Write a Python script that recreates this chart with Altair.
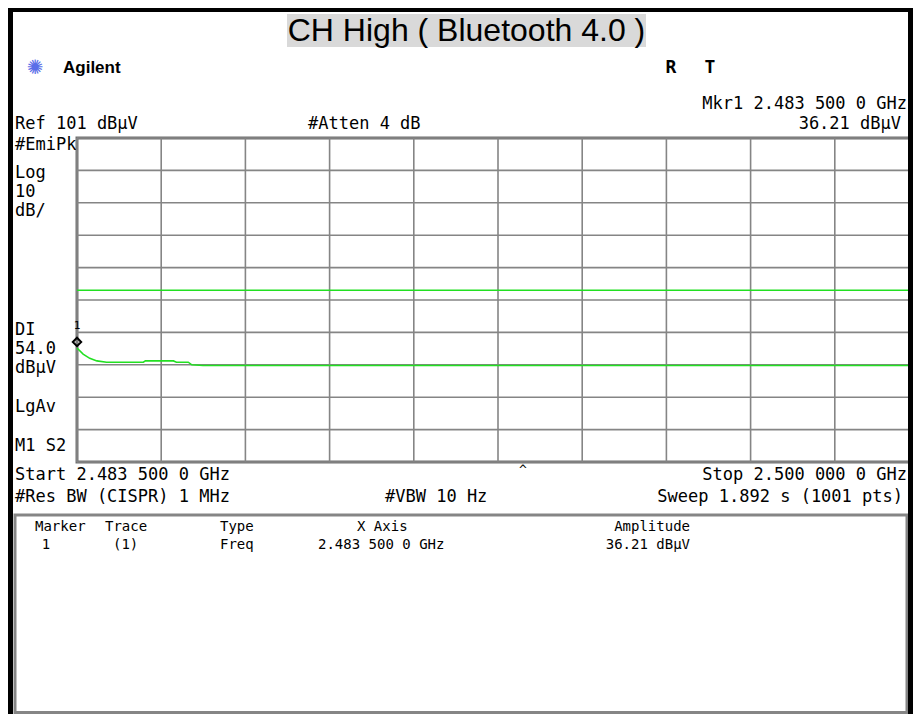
import altair as alt
import pandas as pd

# ---------------- data ----------------
freq_mhz = [2483.50, 2483.62, 2483.75, 2483.89, 2484.08, 2484.80, 2484.84,
            2485.39, 2485.45, 2485.68, 2485.75, 2485.97, 2500.00]
level_dbuv = [36.2, 34.3, 33.0, 32.2, 31.8, 31.8, 32.2,
              32.2, 31.8, 31.8, 31.0, 30.8, 30.8]
display_line = [54.0]
marker_freq = [2483.5]
marker_level = [36.21]
x_grid = [2483.5, 2485.15, 2486.8, 2488.45, 2490.1, 2491.75, 2493.4,
          2495.05, 2496.7, 2498.35, 2500.0]
y_grid = [1, 11, 21, 31, 41, 51, 61, 71, 81, 91, 101]

trace = pd.DataFrame({"f": freq_mhz, "lvl": level_dbuv})
dl = pd.DataFrame({"dl": display_line})
mk = pd.DataFrame({"f": marker_freq, "lvl": marker_level})
gx = pd.DataFrame({"g": x_grid})
gy = pd.DataFrame({"g": y_grid})
one = pd.DataFrame({"v": [0]})

# ---------------- layout ----------------
OX, OY = 77, 138          # page coords of plot origin
TOTAL_W, TOTAL_H = 905, 706
PW, PH = TOTAL_W - (OX - 8), 324   # plot area reaches the right edge of the svg
XRANGE = 842                       # full 10-division span (last line hidden under border)
MONO = "DejaVu Sans Mono"
SANS = "Liberation Sans"
GREEN = "#22e022"
GRID = "#858585"
RIGHT = 8 + TOTAL_W        # page x of svg right edge
BOTTOM = 8 + TOTAL_H       # page y of svg bottom

xs = alt.Scale(domain=[2483.5, 2500.0], range=[0, XRANGE], nice=False, zero=False)
ys = alt.Scale(domain=[1, 101], nice=False, zero=False)


def T(s, X, Y, align="left", size=17, font=MONO, weight="normal", color="black"):
    return alt.Chart(one).mark_text(
        text=s, align=align, baseline="middle", fontSize=size, font=font,
        fontWeight=weight, color=color
    ).encode(x=alt.value(X - OX), y=alt.value(Y - OY))


def R(X1, Y1, X2, Y2, fill="black", stroke=None, sw=0):
    kw = dict(fill=fill) if fill else dict(filled=False)
    if stroke:
        kw.update(stroke=stroke, strokeWidth=sw)
    return alt.Chart(one).mark_rect(**kw).encode(
        x=alt.value(X1 - OX), x2=alt.value(X2 - OX),
        y=alt.value(Y1 - OY), y2=alt.value(Y2 - OY))


vgrid = alt.Chart(gx).mark_rule(color=GRID, strokeWidth=1.6).encode(
    x=alt.X("g:Q", scale=xs, axis=None))
hgrid = alt.Chart(gy).mark_rule(color=GRID, strokeWidth=1.6).encode(
    y=alt.Y("g:Q", scale=ys, axis=None))

line = alt.Chart(trace).mark_line(color=GREEN, strokeWidth=1.6, interpolate="linear").encode(
    x=alt.X("f:Q", scale=xs, axis=None),
    y=alt.Y("lvl:Q", scale=ys, axis=None),
)

dline = alt.Chart(dl).mark_rule(color=GREEN, strokeWidth=1.6).encode(
    y=alt.Y("dl:Q", scale=ys, axis=None))

mpt = alt.Chart(mk).mark_point(shape="diamond", size=70, filled=False, color="black",
                              strokeWidth=2, yOffset=-6, opacity=1).encode(
    x=alt.X("f:Q", scale=xs, axis=None), y=alt.Y("lvl:Q", scale=ys, axis=None))
mlab = alt.Chart(mk).mark_text(text="1", fontSize=11, font=MONO, dy=-22, color="black").encode(
    x=alt.X("f:Q", scale=xs, axis=None), y=alt.Y("lvl:Q", scale=ys, axis=None))

TS = 14  # table font size
layers = [
    R(287, 14, 646, 47, fill="#d9d9d9"),
    T("CH High ( Bluetooth 4.0 )", 466.5, 31, align="center", size=32, font=SANS),
    T("✺", 35, 68, align="center", size=20, font="DejaVu Sans", color="#5a6ee8"),
    T("Agilent", 63, 68, size=17, font=SANS, weight="bold"),
    T("R", 671, 68, align="center", size=18, font=MONO, weight="bold"),
    T("T", 710, 68, align="center", size=18, font=MONO, weight="bold"),
    T("Mkr1  2.483 500 0 GHz", RIGHT - 6, 104, align="right"),
    T("Ref 101 dBµV", 15, 124),
    T("#Atten 4 dB", 308, 124),
    T("36.21 dBµV", RIGHT - 12, 124, align="right"),
    T("#EmiPk", 15, 145),
    T("Log", 15, 173),
    T("10", 15, 192),
    T("dB/", 15, 211),
    T("DI", 15, 330),
    T("54.0", 15, 349),
    T("dBµV", 15, 368),
    T("LgAv", 15, 407),
    T("M1  S2", 15, 446),
    vgrid, hgrid, line, dline, mpt, mlab,
    T("Start 2.483 500 0 GHz", 15, 475),
    T("^", 523, 470, align="center", size=13),
    T("Stop 2.500 000 0 GHz", RIGHT - 6, 475, align="right"),
    T("#Res BW (CISPR) 1 MHz", 15, 497),
    T("#VBW 10 Hz", 385, 497),
    T("Sweep 1.892 s (1001 pts)", RIGHT - 10, 497, align="right"),
    T("Marker", 35, 527, size=TS),
    T("Trace", 105, 527, size=TS),
    T("Type", 220, 527, size=TS),
    T("X Axis", 357, 527, size=TS),
    T("Amplitude", 690, 527, align="right", size=TS),
    T("1", 46, 545, align="center", size=TS),
    T("(1)", 113, 545, size=TS),
    T("Freq", 220, 545, size=TS),
    T("2.483 500 0 GHz", 318, 545, size=TS),
    T("36.21 dBµV", 690, 545, align="right", size=TS),
    R(15, 515, RIGHT - 6, BOTTOM - 1.5, fill=None, stroke=GRID, sw=3),
    R(8, 8, RIGHT, 12),
    R(8, 8, 13, BOTTOM),
    R(RIGHT - 5, 8, RIGHT, BOTTOM),
]

chart = alt.layer(*layers).properties(
    width=PW, height=PH,
    autosize=alt.AutoSizeParams(type="none"),
    padding={"left": OX - 8, "top": OY - 8,
             "right": TOTAL_W - (OX - 8) - PW,
             "bottom": TOTAL_H - (OY - 8) - PH},
    background="white",
).configure_view(stroke="#707070", strokeWidth=3)

chart.save("out.html", embed_options={"renderer": "svg", "actions": False})
